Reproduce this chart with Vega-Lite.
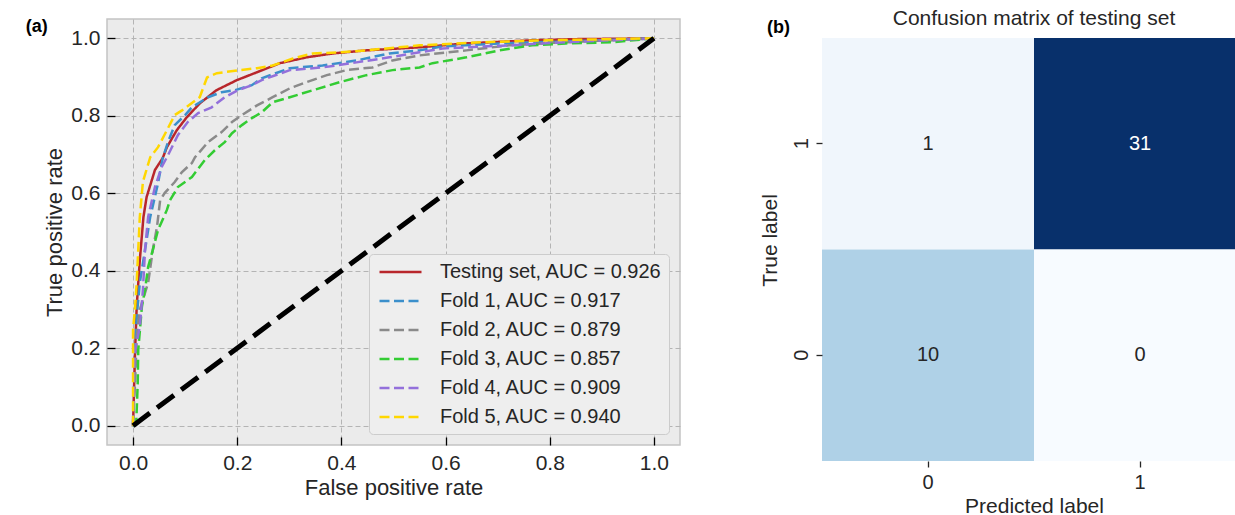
{
  "$schema": "https://vega.github.io/schema/vega-lite/v6.json",
  "background": "white",
  "padding": {"left": 25, "top": 8, "right": 0, "bottom": 0},
  "spacing": 77,
  "config": {
    "font": "Liberation Sans",
    "view": {"stroke": null},
    "axis": {"labelColor": "#262626", "titleColor": "#262626", "titleFontWeight": "normal"}
  },
  "datasets": {
    "roc": [
      {"series": "Testing set, AUC = 0.926", "fpr": 0, "tpr": 0},
      {"series": "Testing set, AUC = 0.926", "fpr": 0.002, "tpr": 0.10},
      {"series": "Testing set, AUC = 0.926", "fpr": 0.004, "tpr": 0.196},
      {"series": "Testing set, AUC = 0.926", "fpr": 0.007, "tpr": 0.307},
      {"series": "Testing set, AUC = 0.926", "fpr": 0.013, "tpr": 0.428},
      {"series": "Testing set, AUC = 0.926", "fpr": 0.020, "tpr": 0.539},
      {"series": "Testing set, AUC = 0.926", "fpr": 0.026, "tpr": 0.590},
      {"series": "Testing set, AUC = 0.926", "fpr": 0.042, "tpr": 0.660},
      {"series": "Testing set, AUC = 0.926", "fpr": 0.057, "tpr": 0.691},
      {"series": "Testing set, AUC = 0.926", "fpr": 0.065, "tpr": 0.719},
      {"series": "Testing set, AUC = 0.926", "fpr": 0.084, "tpr": 0.763},
      {"series": "Testing set, AUC = 0.926", "fpr": 0.103, "tpr": 0.796},
      {"series": "Testing set, AUC = 0.926", "fpr": 0.128, "tpr": 0.832},
      {"series": "Testing set, AUC = 0.926", "fpr": 0.160, "tpr": 0.866},
      {"series": "Testing set, AUC = 0.926", "fpr": 0.199, "tpr": 0.892},
      {"series": "Testing set, AUC = 0.926", "fpr": 0.237, "tpr": 0.912},
      {"series": "Testing set, AUC = 0.926", "fpr": 0.282, "tpr": 0.936},
      {"series": "Testing set, AUC = 0.926", "fpr": 0.333, "tpr": 0.951},
      {"series": "Testing set, AUC = 0.926", "fpr": 0.383, "tpr": 0.961},
      {"series": "Testing set, AUC = 0.926", "fpr": 0.448, "tpr": 0.969},
      {"series": "Testing set, AUC = 0.926", "fpr": 0.550, "tpr": 0.977},
      {"series": "Testing set, AUC = 0.926", "fpr": 0.640, "tpr": 0.987},
      {"series": "Testing set, AUC = 0.926", "fpr": 0.766, "tpr": 0.995},
      {"series": "Testing set, AUC = 0.926", "fpr": 0.850, "tpr": 0.998},
      {"series": "Testing set, AUC = 0.926", "fpr": 1, "tpr": 1},

      {"series": "Fold 1, AUC = 0.917", "fpr": 0, "tpr": 0},
      {"series": "Fold 1, AUC = 0.917", "fpr": 0.002, "tpr": 0.10},
      {"series": "Fold 1, AUC = 0.917", "fpr": 0.004, "tpr": 0.196},
      {"series": "Fold 1, AUC = 0.917", "fpr": 0.007, "tpr": 0.281},
      {"series": "Fold 1, AUC = 0.917", "fpr": 0.013, "tpr": 0.369},
      {"series": "Fold 1, AUC = 0.917", "fpr": 0.023, "tpr": 0.454},
      {"series": "Fold 1, AUC = 0.917", "fpr": 0.033, "tpr": 0.539},
      {"series": "Fold 1, AUC = 0.917", "fpr": 0.048, "tpr": 0.626},
      {"series": "Fold 1, AUC = 0.917", "fpr": 0.057, "tpr": 0.691},
      {"series": "Fold 1, AUC = 0.917", "fpr": 0.067, "tpr": 0.732},
      {"series": "Fold 1, AUC = 0.917", "fpr": 0.080, "tpr": 0.776},
      {"series": "Fold 1, AUC = 0.917", "fpr": 0.100, "tpr": 0.802},
      {"series": "Fold 1, AUC = 0.917", "fpr": 0.113, "tpr": 0.822},
      {"series": "Fold 1, AUC = 0.917", "fpr": 0.144, "tpr": 0.848},
      {"series": "Fold 1, AUC = 0.917", "fpr": 0.170, "tpr": 0.861},
      {"series": "Fold 1, AUC = 0.917", "fpr": 0.195, "tpr": 0.866},
      {"series": "Fold 1, AUC = 0.917", "fpr": 0.228, "tpr": 0.879},
      {"series": "Fold 1, AUC = 0.917", "fpr": 0.247, "tpr": 0.897},
      {"series": "Fold 1, AUC = 0.917", "fpr": 0.301, "tpr": 0.923},
      {"series": "Fold 1, AUC = 0.917", "fpr": 0.364, "tpr": 0.930},
      {"series": "Fold 1, AUC = 0.917", "fpr": 0.429, "tpr": 0.943},
      {"series": "Fold 1, AUC = 0.917", "fpr": 0.492, "tpr": 0.961},
      {"series": "Fold 1, AUC = 0.917", "fpr": 0.550, "tpr": 0.969},
      {"series": "Fold 1, AUC = 0.917", "fpr": 0.594, "tpr": 0.979},
      {"series": "Fold 1, AUC = 0.917", "fpr": 0.703, "tpr": 0.987},
      {"series": "Fold 1, AUC = 0.917", "fpr": 0.831, "tpr": 0.992},
      {"series": "Fold 1, AUC = 0.917", "fpr": 1, "tpr": 1},

      {"series": "Fold 2, AUC = 0.879", "fpr": 0, "tpr": 0},
      {"series": "Fold 2, AUC = 0.879", "fpr": 0.002, "tpr": 0.067},
      {"series": "Fold 2, AUC = 0.879", "fpr": 0.004, "tpr": 0.111},
      {"series": "Fold 2, AUC = 0.879", "fpr": 0.007, "tpr": 0.229},
      {"series": "Fold 2, AUC = 0.879", "fpr": 0.013, "tpr": 0.299},
      {"series": "Fold 2, AUC = 0.879", "fpr": 0.029, "tpr": 0.369},
      {"series": "Fold 2, AUC = 0.879", "fpr": 0.038, "tpr": 0.454},
      {"series": "Fold 2, AUC = 0.879", "fpr": 0.046, "tpr": 0.513},
      {"series": "Fold 2, AUC = 0.879", "fpr": 0.052, "tpr": 0.582},
      {"series": "Fold 2, AUC = 0.879", "fpr": 0.061, "tpr": 0.601},
      {"series": "Fold 2, AUC = 0.879", "fpr": 0.080, "tpr": 0.629},
      {"series": "Fold 2, AUC = 0.879", "fpr": 0.094, "tpr": 0.655},
      {"series": "Fold 2, AUC = 0.879", "fpr": 0.113, "tpr": 0.678},
      {"series": "Fold 2, AUC = 0.879", "fpr": 0.119, "tpr": 0.693},
      {"series": "Fold 2, AUC = 0.879", "fpr": 0.144, "tpr": 0.732},
      {"series": "Fold 2, AUC = 0.879", "fpr": 0.170, "tpr": 0.758},
      {"series": "Fold 2, AUC = 0.879", "fpr": 0.190, "tpr": 0.784},
      {"series": "Fold 2, AUC = 0.879", "fpr": 0.209, "tpr": 0.802},
      {"series": "Fold 2, AUC = 0.879", "fpr": 0.238, "tpr": 0.827},
      {"series": "Fold 2, AUC = 0.879", "fpr": 0.268, "tpr": 0.848},
      {"series": "Fold 2, AUC = 0.879", "fpr": 0.301, "tpr": 0.871},
      {"series": "Fold 2, AUC = 0.879", "fpr": 0.333, "tpr": 0.887},
      {"series": "Fold 2, AUC = 0.879", "fpr": 0.372, "tpr": 0.905},
      {"series": "Fold 2, AUC = 0.879", "fpr": 0.410, "tpr": 0.918},
      {"series": "Fold 2, AUC = 0.879", "fpr": 0.460, "tpr": 0.925},
      {"series": "Fold 2, AUC = 0.879", "fpr": 0.498, "tpr": 0.943},
      {"series": "Fold 2, AUC = 0.879", "fpr": 0.550, "tpr": 0.956},
      {"series": "Fold 2, AUC = 0.879", "fpr": 0.640, "tpr": 0.969},
      {"series": "Fold 2, AUC = 0.879", "fpr": 0.722, "tpr": 0.982},
      {"series": "Fold 2, AUC = 0.879", "fpr": 0.831, "tpr": 0.990},
      {"series": "Fold 2, AUC = 0.879", "fpr": 1, "tpr": 1},

      {"series": "Fold 3, AUC = 0.857", "fpr": 0, "tpr": 0},
      {"series": "Fold 3, AUC = 0.857", "fpr": 0.006, "tpr": 0.003},
      {"series": "Fold 3, AUC = 0.857", "fpr": 0.009, "tpr": 0.111},
      {"series": "Fold 3, AUC = 0.857", "fpr": 0.010, "tpr": 0.196},
      {"series": "Fold 3, AUC = 0.857", "fpr": 0.017, "tpr": 0.307},
      {"series": "Fold 3, AUC = 0.857", "fpr": 0.023, "tpr": 0.351},
      {"series": "Fold 3, AUC = 0.857", "fpr": 0.029, "tpr": 0.410},
      {"series": "Fold 3, AUC = 0.857", "fpr": 0.038, "tpr": 0.454},
      {"series": "Fold 3, AUC = 0.857", "fpr": 0.048, "tpr": 0.505},
      {"series": "Fold 3, AUC = 0.857", "fpr": 0.065, "tpr": 0.557},
      {"series": "Fold 3, AUC = 0.857", "fpr": 0.071, "tpr": 0.582},
      {"series": "Fold 3, AUC = 0.857", "fpr": 0.086, "tpr": 0.616},
      {"series": "Fold 3, AUC = 0.857", "fpr": 0.113, "tpr": 0.642},
      {"series": "Fold 3, AUC = 0.857", "fpr": 0.138, "tpr": 0.686},
      {"series": "Fold 3, AUC = 0.857", "fpr": 0.157, "tpr": 0.711},
      {"series": "Fold 3, AUC = 0.857", "fpr": 0.176, "tpr": 0.732},
      {"series": "Fold 3, AUC = 0.857", "fpr": 0.190, "tpr": 0.755},
      {"series": "Fold 3, AUC = 0.857", "fpr": 0.209, "tpr": 0.776},
      {"series": "Fold 3, AUC = 0.857", "fpr": 0.228, "tpr": 0.794},
      {"series": "Fold 3, AUC = 0.857", "fpr": 0.247, "tpr": 0.809},
      {"series": "Fold 3, AUC = 0.857", "fpr": 0.268, "tpr": 0.835},
      {"series": "Fold 3, AUC = 0.857", "fpr": 0.301, "tpr": 0.848},
      {"series": "Fold 3, AUC = 0.857", "fpr": 0.345, "tpr": 0.866},
      {"series": "Fold 3, AUC = 0.857", "fpr": 0.397, "tpr": 0.887},
      {"series": "Fold 3, AUC = 0.857", "fpr": 0.448, "tpr": 0.905},
      {"series": "Fold 3, AUC = 0.857", "fpr": 0.498, "tpr": 0.918},
      {"series": "Fold 3, AUC = 0.857", "fpr": 0.550, "tpr": 0.925},
      {"series": "Fold 3, AUC = 0.857", "fpr": 0.575, "tpr": 0.936},
      {"series": "Fold 3, AUC = 0.857", "fpr": 0.640, "tpr": 0.951},
      {"series": "Fold 3, AUC = 0.857", "fpr": 0.703, "tpr": 0.969},
      {"series": "Fold 3, AUC = 0.857", "fpr": 0.766, "tpr": 0.982},
      {"series": "Fold 3, AUC = 0.857", "fpr": 0.831, "tpr": 0.987},
      {"series": "Fold 3, AUC = 0.857", "fpr": 0.920, "tpr": 0.990},
      {"series": "Fold 3, AUC = 0.857", "fpr": 1, "tpr": 1},

      {"series": "Fold 4, AUC = 0.909", "fpr": 0, "tpr": 0},
      {"series": "Fold 4, AUC = 0.909", "fpr": 0.002, "tpr": 0.144},
      {"series": "Fold 4, AUC = 0.909", "fpr": 0.004, "tpr": 0.196},
      {"series": "Fold 4, AUC = 0.909", "fpr": 0.013, "tpr": 0.255},
      {"series": "Fold 4, AUC = 0.909", "fpr": 0.019, "tpr": 0.351},
      {"series": "Fold 4, AUC = 0.909", "fpr": 0.023, "tpr": 0.454},
      {"series": "Fold 4, AUC = 0.909", "fpr": 0.029, "tpr": 0.539},
      {"series": "Fold 4, AUC = 0.909", "fpr": 0.042, "tpr": 0.616},
      {"series": "Fold 4, AUC = 0.909", "fpr": 0.055, "tpr": 0.668},
      {"series": "Fold 4, AUC = 0.909", "fpr": 0.067, "tpr": 0.698},
      {"series": "Fold 4, AUC = 0.909", "fpr": 0.086, "tpr": 0.750},
      {"series": "Fold 4, AUC = 0.909", "fpr": 0.105, "tpr": 0.784},
      {"series": "Fold 4, AUC = 0.909", "fpr": 0.125, "tpr": 0.807},
      {"series": "Fold 4, AUC = 0.909", "fpr": 0.151, "tpr": 0.822},
      {"series": "Fold 4, AUC = 0.909", "fpr": 0.176, "tpr": 0.848},
      {"series": "Fold 4, AUC = 0.909", "fpr": 0.201, "tpr": 0.866},
      {"series": "Fold 4, AUC = 0.909", "fpr": 0.228, "tpr": 0.879},
      {"series": "Fold 4, AUC = 0.909", "fpr": 0.247, "tpr": 0.892},
      {"series": "Fold 4, AUC = 0.909", "fpr": 0.301, "tpr": 0.918},
      {"series": "Fold 4, AUC = 0.909", "fpr": 0.364, "tpr": 0.925},
      {"series": "Fold 4, AUC = 0.909", "fpr": 0.429, "tpr": 0.938},
      {"series": "Fold 4, AUC = 0.909", "fpr": 0.492, "tpr": 0.951},
      {"series": "Fold 4, AUC = 0.909", "fpr": 0.550, "tpr": 0.964},
      {"series": "Fold 4, AUC = 0.909", "fpr": 0.594, "tpr": 0.974},
      {"series": "Fold 4, AUC = 0.909", "fpr": 0.722, "tpr": 0.982},
      {"series": "Fold 4, AUC = 0.909", "fpr": 0.831, "tpr": 0.990},
      {"series": "Fold 4, AUC = 0.909", "fpr": 1, "tpr": 1},

      {"series": "Fold 5, AUC = 0.940", "fpr": 0, "tpr": 0},
      {"series": "Fold 5, AUC = 0.940", "fpr": 0, "tpr": 0.247},
      {"series": "Fold 5, AUC = 0.940", "fpr": 0.004, "tpr": 0.307},
      {"series": "Fold 5, AUC = 0.940", "fpr": 0.007, "tpr": 0.369},
      {"series": "Fold 5, AUC = 0.940", "fpr": 0.0115, "tpr": 0.497},
      {"series": "Fold 5, AUC = 0.940", "fpr": 0.013, "tpr": 0.539},
      {"series": "Fold 5, AUC = 0.940", "fpr": 0.019, "tpr": 0.630},
      {"series": "Fold 5, AUC = 0.940", "fpr": 0.033, "tpr": 0.693},
      {"series": "Fold 5, AUC = 0.940", "fpr": 0.048, "tpr": 0.719},
      {"series": "Fold 5, AUC = 0.940", "fpr": 0.065, "tpr": 0.763},
      {"series": "Fold 5, AUC = 0.940", "fpr": 0.080, "tpr": 0.802},
      {"series": "Fold 5, AUC = 0.940", "fpr": 0.094, "tpr": 0.814},
      {"series": "Fold 5, AUC = 0.940", "fpr": 0.128, "tpr": 0.848},
      {"series": "Fold 5, AUC = 0.940", "fpr": 0.142, "tpr": 0.899},
      {"series": "Fold 5, AUC = 0.940", "fpr": 0.161, "tpr": 0.910},
      {"series": "Fold 5, AUC = 0.940", "fpr": 0.205, "tpr": 0.918},
      {"series": "Fold 5, AUC = 0.940", "fpr": 0.238, "tpr": 0.923},
      {"series": "Fold 5, AUC = 0.940", "fpr": 0.268, "tpr": 0.930},
      {"series": "Fold 5, AUC = 0.940", "fpr": 0.307, "tpr": 0.948},
      {"series": "Fold 5, AUC = 0.940", "fpr": 0.345, "tpr": 0.961},
      {"series": "Fold 5, AUC = 0.940", "fpr": 0.397, "tpr": 0.964},
      {"series": "Fold 5, AUC = 0.940", "fpr": 0.448, "tpr": 0.969},
      {"series": "Fold 5, AUC = 0.940", "fpr": 0.550, "tpr": 0.982},
      {"series": "Fold 5, AUC = 0.940", "fpr": 0.594, "tpr": 0.985},
      {"series": "Fold 5, AUC = 0.940", "fpr": 0.670, "tpr": 0.990},
      {"series": "Fold 5, AUC = 0.940", "fpr": 0.793, "tpr": 0.995},
      {"series": "Fold 5, AUC = 0.940", "fpr": 1, "tpr": 1}
    ],
    "chance": [{"fpr": 0, "tpr": 0}, {"fpr": 1, "tpr": 1}],
    "cm": [
      {"true": "1", "pred": "0", "count": 1},
      {"true": "1", "pred": "1", "count": 31},
      {"true": "0", "pred": "0", "count": 10},
      {"true": "0", "pred": "1", "count": 0}
    ]
  },
  "hconcat": [
    {
      "title": {"text": "(a)", "fontSize": 18, "fontWeight": "bold", "anchor": "start", "frame": "bounds", "baseline": "alphabetic", "offset": -31, "dx": -18, "color": "black"},
      "width": 573,
      "height": 426,
      "view": {"fill": "#ebebeb", "stroke": "#c4c4c4", "strokeWidth": 1.5},
      "layer": [
        {
          "data": {"name": "roc"},
          "mark": {"type": "line", "strokeWidth": 2.5, "clip": true},
          "encoding": {
            "x": {"field": "fpr", "type": "quantitative", "title": "False positive rate",
              "scale": {"domain": [-0.05, 1.05], "nice": false, "zero": false},
              "axis": {"values": [0, 0.2, 0.4, 0.6, 0.8, 1.0], "format": ".1f", "domain": false, "tickSize": -8, "tickColor": "black", "tickWidth": 1.3, "labelPadding": 15, "labelFontSize": 21, "titleFontSize": 22, "titlePadding": 4, "grid": true, "gridDash": [5, 3], "gridColor": "#b4b4b4", "gridWidth": 1}},
            "y": {"field": "tpr", "type": "quantitative", "title": "True positive rate",
              "scale": {"domain": [-0.05, 1.05], "nice": false, "zero": false},
              "axis": {"values": [0, 0.2, 0.4, 0.6, 0.8, 1.0], "format": ".1f", "domain": false, "tickSize": -8, "tickColor": "black", "tickWidth": 1.3, "labelPadding": 15, "labelFontSize": 21, "titleFontSize": 22, "titlePadding": 4, "grid": true, "gridDash": [5, 3], "gridColor": "#b4b4b4", "gridWidth": 1}},
            "color": {"field": "series", "type": "nominal", "sort": null,
              "scale": {"domain": ["Testing set, AUC = 0.926", "Fold 1, AUC = 0.917", "Fold 2, AUC = 0.879", "Fold 3, AUC = 0.857", "Fold 4, AUC = 0.909", "Fold 5, AUC = 0.940"],
                "range": ["#b8262b", "#3b8fcb", "#8a8a8a", "#33cc33", "#9370db", "#ffd700"]},
              "legend": {"title": null, "orient": "bottom-right", "offset": 11, "fillColor": "#eeeeee", "strokeColor": "#cccccc", "cornerRadius": 4, "padding": 6.5, "labelFontSize": 20, "labelColor": "#262626", "labelLimit": 400, "symbolType": "M-0.75,0H3.45", "symbolSize": 400, "symbolStrokeWidth": 2.5, "labelOffset": 41.5, "rowPadding": 7,
                "encode": {"symbols": {"update": {"strokeDash": {"signal": "datum.value === 'Testing set, AUC = 0.926' ? [1, 0] : [10, 4.5]"}}}}}},
            "strokeDash": {"field": "series", "type": "nominal", "sort": null,
              "scale": {"domain": ["Testing set, AUC = 0.926", "Fold 1, AUC = 0.917", "Fold 2, AUC = 0.879", "Fold 3, AUC = 0.857", "Fold 4, AUC = 0.909", "Fold 5, AUC = 0.940"],
                "range": [[1, 0], [10, 4.5], [10, 4.5], [10, 4.5], [10, 4.5], [10, 4.5]]},
              "legend": null},
            "order": {"value": null}
          }
        },
        {
          "data": {"name": "chance"},
          "mark": {"type": "line", "color": "black", "strokeWidth": 5, "strokeDash": [21, 9]},
          "encoding": {
            "x": {"field": "fpr", "type": "quantitative"},
            "y": {"field": "tpr", "type": "quantitative"}
          }
        }
      ]
    },
    {
      "title": {"text": "(b)", "fontSize": 18, "fontWeight": "bold", "anchor": "start", "frame": "bounds", "baseline": "alphabetic", "offset": -42.8, "dx": 8, "color": "black"},
      "vconcat": [
        {
          "title": {"text": "Confusion matrix of testing set", "fontSize": 21, "fontWeight": "normal", "baseline": "alphabetic", "offset": -27, "anchor": "middle", "color": "#262626"},
          "width": 424,
          "height": 442,
          "data": {"name": "cm"},
          "encoding": {
            "x": {"field": "pred", "type": "nominal", "title": "Predicted label",
              "scale": {"domain": ["0", "1"], "paddingInner": 0, "paddingOuter": 0},
              "axis": {"labelAngle": 0, "domain": false, "tickSize": 6, "tickColor": "#262626", "tickWidth": 1.3, "labelPadding": 5, "labelFontSize": 20, "titleFontSize": 21, "titlePadding": 3}},
            "y": {"field": "true", "type": "nominal", "title": "True label",
              "scale": {"domain": ["1", "0"], "paddingInner": 0, "paddingOuter": 0.0449, "align": 1},
              "axis": {"labelAngle": -90, "domain": false, "tickSize": 6, "tickColor": "#262626", "tickWidth": 1.3, "labelPadding": 5, "labelFontSize": 20, "titleFontSize": 21, "titlePadding": 11}}
          },
          "layer": [
            {
              "mark": {"type": "rect"},
              "encoding": {
                "color": {"field": "count", "type": "quantitative", "legend": null,
                  "scale": {"domain": [0, 1, 10, 31], "range": ["#f7fbff", "#f0f6fc", "#afd1e7", "#08306b"]}}
              }
            },
            {
              "mark": {"type": "text", "fontSize": 20},
              "encoding": {
                "text": {"field": "count", "type": "quantitative"},
                "color": {"condition": {"test": "datum.count > 15", "value": "white"}, "value": "#262626"}
              }
            }
          ]
        }
      ]
    }
  ]
}
